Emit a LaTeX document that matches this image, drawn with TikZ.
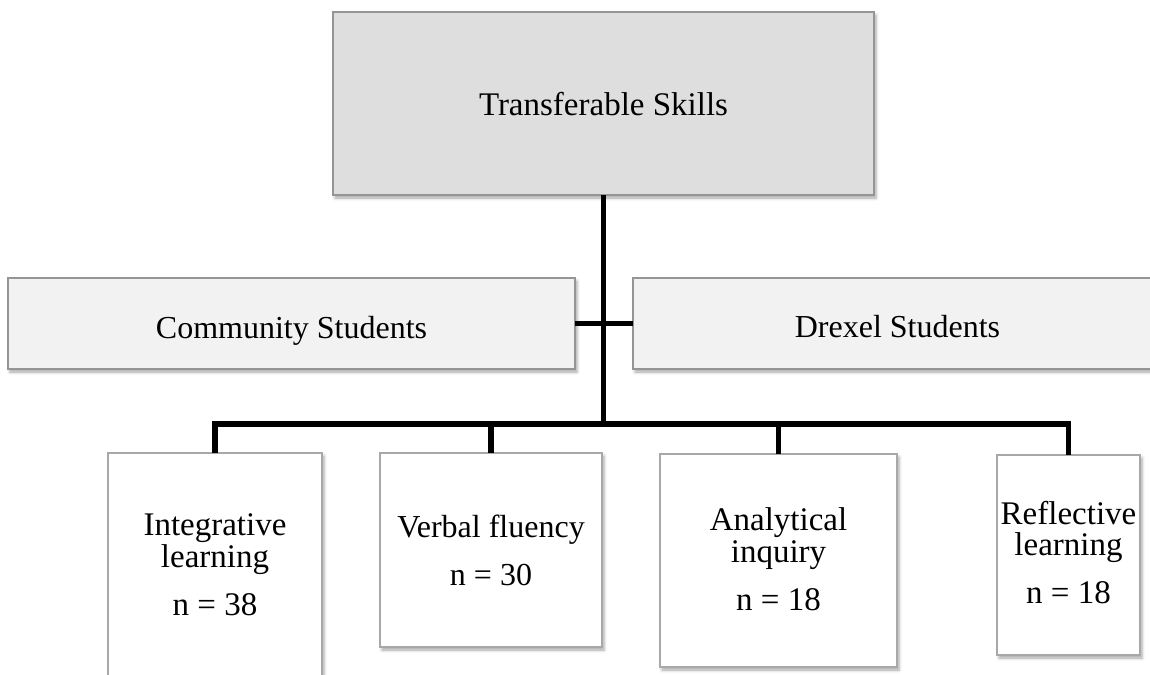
\documentclass[tikz,border=0pt]{standalone}
\usepackage{fontspec}
\setmainfont{Liberation Serif}
\usetikzlibrary{shadows.blur}
\definecolor{topfill}{HTML}{DEDEDE}
\definecolor{midfill}{HTML}{F2F2F2}
\definecolor{boxline}{HTML}{959595}
\definecolor{leafline}{HTML}{A8A8A8}
\begin{document}
\begin{tikzpicture}[x=1pt,y=-1pt,
  box/.style={draw=boxline, line width=1.2pt, inner sep=0pt, outer sep=0pt,
    blur shadow={shadow xshift=2pt, shadow yshift=-3pt, shadow blur radius=3pt, shadow opacity=35}},
  topbox/.style={box, fill=topfill},
  midbox/.style={box, fill=midfill},
  leafbox/.style={box, fill=white, draw=leafline},
  conn/.style={line width=5.5pt, black},
  lbl/.style={anchor=base, inner sep=0pt, font=\fontsize{33}{36}\selectfont},
  tlbl/.style={anchor=base, inner sep=0pt, font=\fontsize{32}{36}\selectfont}]
\useasboundingbox (0,0) rectangle (1150,674);
\clip (0,0) rectangle (1150,674);

% boxes
\node[topbox, minimum width=541pt, minimum height=183pt] (top) at (603.5,103.5) {};
\node[midbox, minimum width=567pt, minimum height=91pt] (comm) at (291.5,323.5) {};
\node[midbox, minimum width=529pt, minimum height=91pt] (drex) at (897.5,323.5) {};
\node[leafbox, minimum width=214pt, minimum height=267pt] (int) at (215,586.5) {};
\node[leafbox, minimum width=222pt, minimum height=194pt] (verb) at (491,550) {};
\node[leafbox, minimum width=237pt, minimum height=213pt] (ana) at (778.5,560.5) {};
\node[leafbox, minimum width=143pt, minimum height=200pt] (ref) at (1068.5,555) {};

% connectors
\coordinate (barlevel) at (0,424);
\coordinate (hub) at (top.south |- barlevel);
\draw[conn] (top.south) -- (hub);
\draw[conn] (comm.east) -- (comm.east -| drex.west);
\draw[conn] (int.north) |- (hub) -| (ref.north);
\draw[conn] (verb.north) -- (verb.north |- hub);
\draw[conn] (ana.north) -- (ana.north |- hub);

% labels
\node[lbl] (ttop) at (603.5,115) {Transferable Skills};
\node[tlbl] (tcomm) at (291.5,338) {Community Students};
\node[tlbl] (tdrex) at (897.5,337) {Drexel Students};

\node[lbl] (tint1) at (215,535) {Integrative};
\node[lbl] (tint2) at (215,567) {learning};
\node[lbl] (tint3) at (215,615) {n = 38};

\node[tlbl] (tverb1) at (491,537) {Verbal fluency};
\node[tlbl] (tverb2) at (491,585) {n = 30};

\node[lbl] (tana1) at (778.5,530) {Analytical};
\node[lbl] (tana2) at (778.5,562) {inquiry};
\node[lbl] (tana3) at (778.5,610) {n = 18};

\node[lbl] (tref1) at (1068.5,524) {Reflective};
\node[lbl] (tref2) at (1068.5,555) {learning};
\node[lbl] (tref3) at (1068.5,603) {n = 18};
\end{tikzpicture}
\end{document}
